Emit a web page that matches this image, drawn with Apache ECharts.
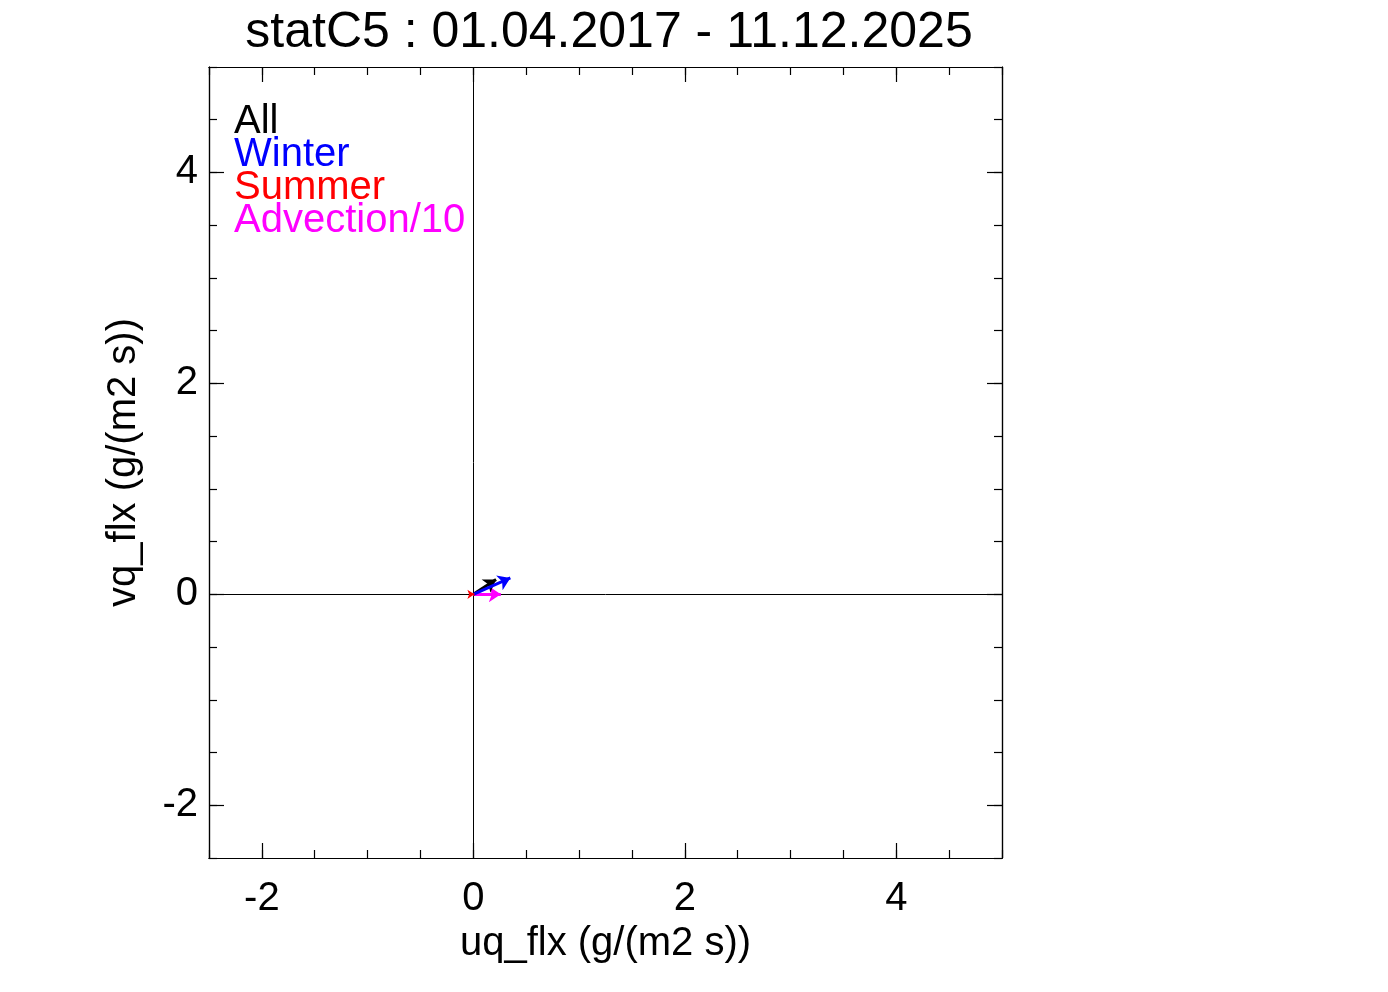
<!DOCTYPE html>
<html>
<head>
<meta charset="utf-8">
<script src="https://cdn.jsdelivr.net/npm/echarts@6/dist/echarts.min.js"></script>
<style>html,body{margin:0;padding:0;background:#fff;}#c{width:1388px;height:992px;}</style>
</head>
<body>
<div id="c"></div>
<script>
const titleText = 'statC5 : 01.04.2017 - 11.12.2025';
const xName = 'uq_flx (g/(m2 s))';
const yName = 'vq_flx (g/(m2 s))';
const categories = ['All', 'Winter', 'Summer', 'Advection/10'];
const colors = ['#000000', '#0000ff', '#ff0000', '#ff00ff'];
const uValues = [0.215, 0.35, 0.01, 0.26];
const vValues = [0.14, 0.155, 0.0, 0.0];
const majorTicks = [-2, 0, 2, 4];
const axisMin = -2.5, axisMax = 5, minorStep = 0.5;

const FONT = '"Liberation Sans", Arial, Helvetica, sans-serif';
const G = {left: 209, top: 67, width: 793, height: 791};
const lineStyle = {color: '#000', width: 1.2};

function minorAxis(pos, gi) {
  return {
    type: 'value', gridIndex: gi, position: pos, min: axisMin, max: axisMax, interval: minorStep,
    axisLine: {show: true, onZero: false, lineStyle: lineStyle},
    axisTick: {show: true, inside: true, length: 8, lineStyle: lineStyle},
    axisLabel: {show: false}, splitLine: {show: false}
  };
}
function majorAxis(pos, gi, withLabels, extra) {
  return Object.assign({
    type: 'value', gridIndex: gi, position: pos, min: axisMin, max: axisMax, interval: minorStep,
    axisLine: {show: true, onZero: false, lineStyle: lineStyle},
    axisTick: {show: true, inside: true, length: 15, customValues: majorTicks, lineStyle: lineStyle},
    axisLabel: withLabels ? {show: true, customValues: majorTicks, fontSize: 40, fontFamily: FONT, color: '#000'} : {show: false},
    splitLine: {show: false}
  }, extra || {});
}

const xAxes = [
  minorAxis('bottom', 0), minorAxis('top', 1),
  majorAxis('bottom', 2, true, {name: xName, nameLocation: 'middle', nameGap: 62,
    nameTextStyle: {fontSize: 40, fontFamily: FONT, color: '#000'}}),
  majorAxis('top', 3, false)
];
xAxes[2].axisLabel.margin = 21;
const yAxes = [
  minorAxis('left', 0), minorAxis('right', 1),
  majorAxis('left', 2, true, {name: yName, nameLocation: 'middle', nameGap: 65,
    nameTextStyle: {fontSize: 40, fontFamily: FONT, color: '#000'}}),
  majorAxis('right', 3, false)
];
yAxes[2].axisLabel.margin = 11;

const series = [];
const order = [3, 0, 1, 2];
order.forEach(function (i) {
  series.push({
    type: 'lines', coordinateSystem: 'cartesian2d', xAxisIndex: 0, yAxisIndex: 0,
    name: categories[i], silent: true, z: 5,
    symbol: ['none', 'arrow'], symbolSize: i === 2 ? 7 : [11, 12],
    lineStyle: {color: colors[i], width: 3, opacity: 1},
    data: [{coords: [[0, 0], [uValues[i], vValues[i]]]}]
  });
});
series.push({
  type: 'line', xAxisIndex: 0, yAxisIndex: 0, data: [], silent: true,
  markLine: {silent: true, symbol: 'none', label: {show: false},
    lineStyle: {color: '#000', width: 1, type: 'solid'},
    data: [{xAxis: 0}, {yAxis: 0}]}
});

const legendGraphics = categories.map(function (c, i) {
  return {type: 'text', left: 234, top: 102 + i * 33,
    style: {text: c, fill: colors[i], fontSize: 40, fontFamily: FONT}};
});

const chart = echarts.init(document.getElementById('c'), null, {renderer: 'canvas'});
chart.setOption({
  animation: false,
  backgroundColor: '#fff',
  title: {text: titleText, left: 604, textAlign: 'center', top: 3,
    textStyle: {fontSize: 50, fontWeight: 'normal', fontFamily: FONT, color: '#000'}},
  grid: [0, 1, 2, 3].map(function () { return Object.assign({}, G); }),
  xAxis: xAxes,
  yAxis: yAxes,
  graphic: legendGraphics,
  series: series
});
</script>
</body>
</html>
